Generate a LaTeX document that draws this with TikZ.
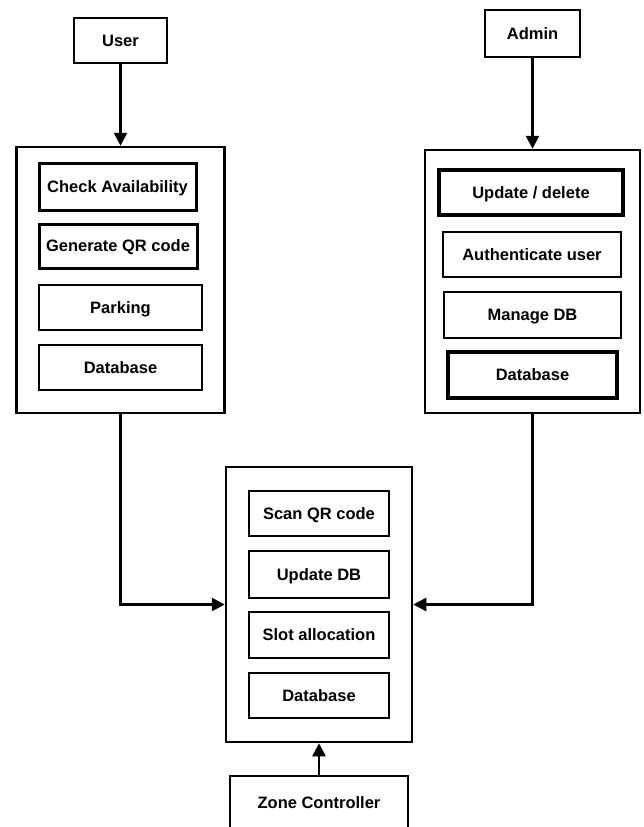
\documentclass[tikz,border=0pt]{standalone}
\usepackage{fontspec}
\setmainfont{Liberation Sans}
\usetikzlibrary{arrows.meta}
\begin{document}
\begin{tikzpicture}[x=1pt,y=-1pt,
  box/.style={draw,line width=2.5pt,inner sep=0pt,text depth=0pt,font=\fontsize{16.5}{18}\selectfont\bfseries},
  panel/.style={draw,line width=2.5pt,inner sep=0pt},
  conn/.style={line width=2.6pt,-{Triangle[length=13pt,width=13pt]}}]
\useasboundingbox (0,0) rectangle (644,827);
\clip (0,0) rectangle (644,827);
% left column
\node[box,minimum width=93pt,minimum height=45pt] (user) at (120.5,40.5) {User};
\node[panel,minimum width=208pt,minimum height=266pt] (lp) at (120.5,280) {};
\node[box,line width=3pt,minimum width=157pt,minimum height=47pt] (ca) at (117.5,186.5) {Check Availability};
\node[box,line width=3pt,minimum width=158pt,minimum height=44pt] (gq) at (118,246) {Generate QR code};
\node[box,minimum width=163pt,minimum height=45pt] (pk) at (120.5,307.5) {Parking};
\node[box,minimum width=163pt,minimum height=45pt] (dbl) at (120.5,367.5) {Database};
% right column
\node[box,minimum width=95pt,minimum height=47pt] (admin) at (532.5,33.5) {Admin};
\node[panel,minimum width=215pt,minimum height=263pt] (rp) at (532.5,281.5) {};
\node[box,line width=4pt,minimum width=184pt,minimum height=45pt] (ud) at (531,192.5) {Update / delete};
\node[box,minimum width=178pt,minimum height=45pt] (au) at (532,254.5) {Authenticate user};
\node[box,minimum width=177pt,minimum height=46pt] (md) at (532.5,315) {Manage DB};
\node[box,line width=3.2pt,minimum width=169pt,minimum height=46pt] (dbr) at (532.5,375) {Database};
% center column
\node[panel,minimum width=186pt,minimum height=275pt] (cp) at (319,604.5) {};
\node[box,minimum width=140pt,minimum height=45pt] (sq) at (319,513.5) {Scan QR code};
\node[box,minimum width=140pt,minimum height=47pt] (udb) at (319,574.5) {Update DB};
\node[box,minimum width=140pt,minimum height=46pt] (sa) at (319,635) {Slot allocation};
\node[box,minimum width=140pt,minimum height=45pt] (dbc) at (319,695.5) {Database};
\node[box,minimum width=178pt,minimum height=54pt] (zc) at (319,803) {Zone Controller};
% connectors
\draw[conn] (user.south) -- (lp.north);
\draw[conn] (admin.south) -- (rp.north);
\draw[conn] (lp.south) |- (cp.west);
\draw[conn] (rp.south) |- (cp.east);
\draw[conn] (zc.north) -- (cp.south);
\end{tikzpicture}
\end{document}
